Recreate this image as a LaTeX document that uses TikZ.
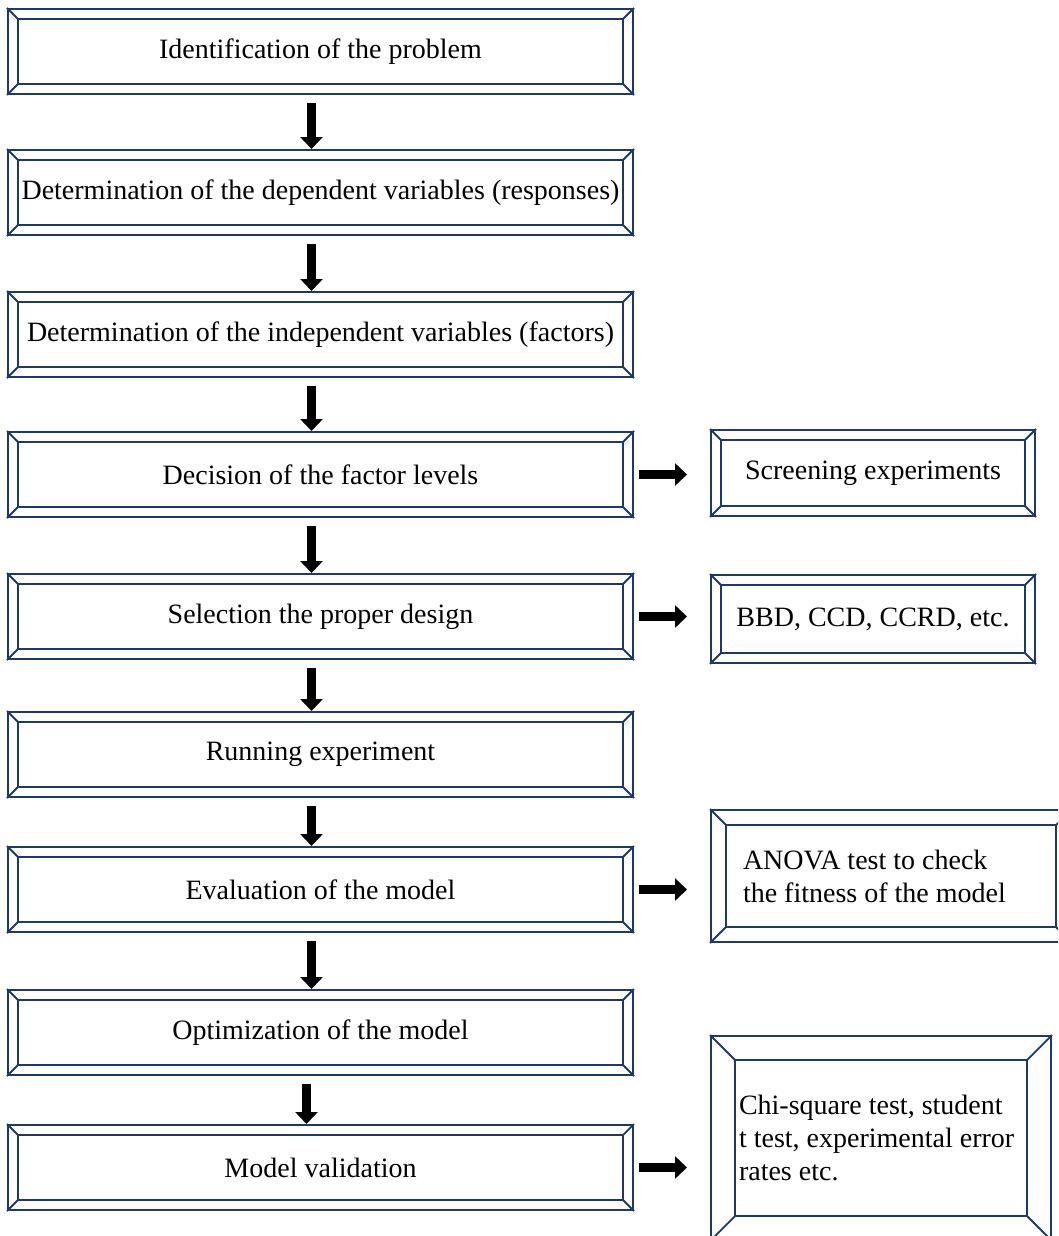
\documentclass[tikz,border=0pt]{standalone}
\usepackage{fontspec}
\setmainfont{Liberation Serif}
\usetikzlibrary{arrows.meta}
\definecolor{bevelblue}{HTML}{1F3864}

\begin{document}
\begin{tikzpicture}[
    x=1pt, y=-1pt,
    % box styles
    stage/.style={
        rectangle,
        draw=bevelblue,
        line width=2pt,
        fill=white,
        minimum width=625pt,
        minimum height=85pt,
        inner sep=4pt,
        font=\fontsize{28}{33}\selectfont
    },
    side/.style={
        stage,
        minimum width=324pt,
        minimum height=86pt
    },
    note/.style={
        stage,
        minimum width=0pt,
        align=flush left,
        inner xsep=32pt,
        inner ysep=4pt
    },
    bevel line/.style={draw=bevelblue, line width=1.8pt},
    % arrow styles
    flow/.style={
        draw=black,
        line width=9pt,
        -{Triangle[width=22pt, length=12pt]}
    },
    down flow/.style={flow, shorten <=8pt},
    side flow/.style={flow, shorten <=5pt, shorten >=23pt}
]
\useasboundingbox (0,0) rectangle (1058,1236);
\clip (0,0) rectangle (1058,1236);

% -------------------------------
% main steps
\foreach \y/\txt [count=\i] in {
    51.5/Identification of the problem,
    192.5/Determination of the dependent variables (responses),
    334.5/Determination of the independent variables (factors),
    474.5/Decision of the factor levels,
    616.5/Selection the proper design,
    754.5/Running experiment,
    889.5/Evaluation of the model,
    1032.5/Optimization of the model,
    1167.5/Model validation}
{
    \node[stage] (m\i) at (320.5,\y) {\txt};
}

% -------------------------------
% side boxes
\node[side] (scr) at (873,473) {Screening experiments};
\node[side, minimum height=88pt] (bbd) at (873,619) {BBD, CCD, CCRD, etc.};
\node[note, text width=296pt, minimum height=132pt] (anova) at (891,876)
    {ANOVA test to check\\the fitness of the model};
\node[note, inner xsep=28pt, text width=284pt, minimum height=204pt] (chi) at (881,1138)
    {Chi-square test, student\\t test, experimental error\\rates etc.};

% -------------------------------
% bevel frames
\foreach \n/\b in {m1/11, m2/11, m3/11, m4/11, m5/11, m6/11, m7/11, m8/11, m9/11,
                   scr/11, bbd/11, anova/16, chi/25}
{
    \draw[bevel line] ([shift={(\b,\b)}]\n.north west) rectangle ([shift={(-\b,-\b)}]\n.south east);
    \draw[bevel line] (\n.north west) -- ([shift={(\b,\b)}]\n.north west);
    \draw[bevel line] (\n.north east) -- ([shift={(-\b,\b)}]\n.north east);
    \draw[bevel line] (\n.south west) -- ([shift={(\b,-\b)}]\n.south west);
    \draw[bevel line] (\n.south east) -- ([shift={(-\b,-\b)}]\n.south east);
}

% -------------------------------
% arrows down the chain
\foreach \a/\b in {m1/m2, m2/m3, m3/m4, m4/m5, m5/m6, m6/m7, m7/m8}
    \draw[down flow] ([xshift=-9pt]\a.south) -- ([xshift=-9pt]\b.north);
\draw[down flow] ([xshift=-14pt]m8.south) -- ([xshift=-14pt]m9.north);

% arrows to the side boxes
\foreach \a/\b in {m4/scr, m5/bbd, m7/anova, m9/chi}
    \draw[side flow] (\a.east) -- (\a.east -| \b.west);

\end{tikzpicture}
\end{document}
